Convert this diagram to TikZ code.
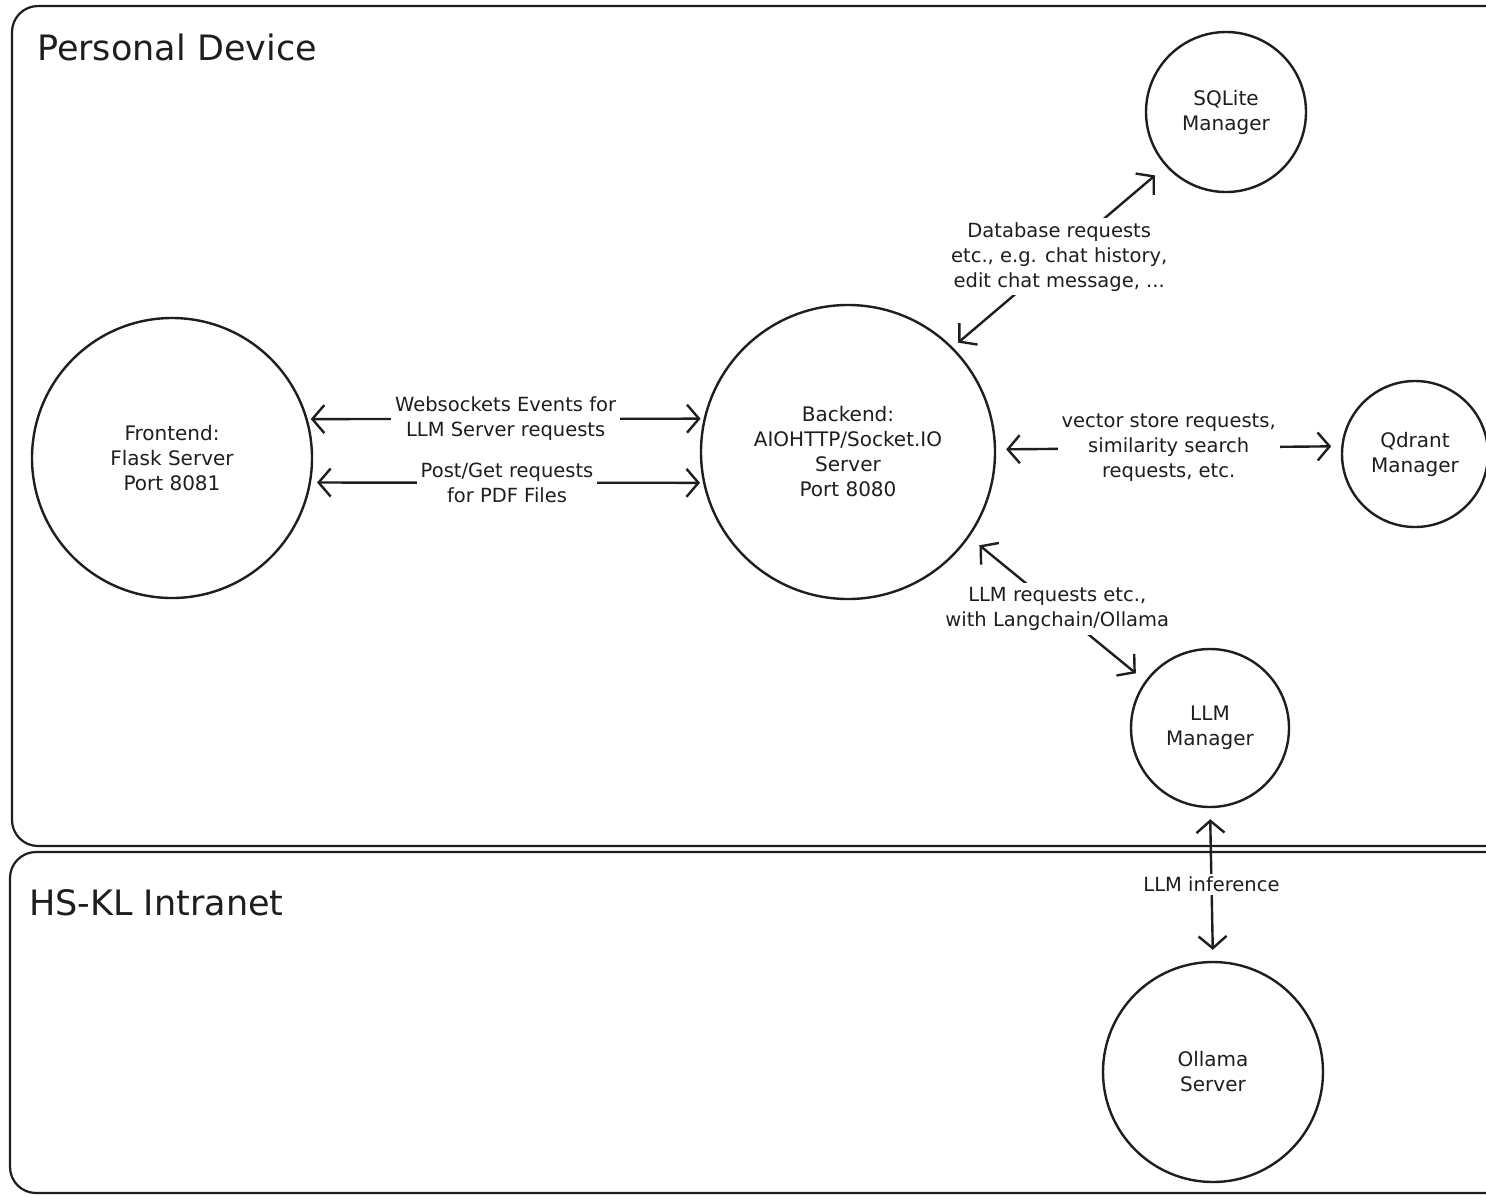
\documentclass[tikz,border=0pt]{standalone}
\usepackage{fontspec}
\setmainfont{DejaVu Sans}
\usetikzlibrary{arrows.meta}
\definecolor{ink}{HTML}{1E1E1E}
\begin{document}
\begin{tikzpicture}[x=1pt,y=-1pt,
  every node/.style={text=ink},
  zone/.style={draw=ink, line width=2.2pt, rounded corners=26pt},
  comp/.style={circle, draw=ink, line width=2.4pt, inner sep=0pt, align=center,
    font=\fontsize{20}{25}\selectfont},
  conn/.style={draw=ink, line width=2.4pt, line cap=round,
    {Straight Barb[length=12pt,width=28pt]}-{Straight Barb[length=12pt,width=28pt]}},
  lbl/.style={fill=white, align=center, inner sep=4pt,
    font=\fontsize{19.5}{25}\selectfont},
  zonetitle/.style={anchor=west, inner sep=0pt, font=\fontsize{35}{40}\selectfont}]
\useasboundingbox (0,0) rectangle (1486,1195);
\fill[white] (0,0) rectangle (1486,1195);

\begin{scope}
\clip (0,0) rectangle (1486,1195);
\draw[zone] (12,6) rectangle (1540,846);
\draw[zone] (10,852) rectangle (1540,1193);
\end{scope}

\node[zonetitle] (tpd) at (37,47) {Personal Device};
\node[zonetitle] (tik) at (29,903) {HS-KL Intranet};

\node[comp, minimum size=280pt] (front) at (172,458) {Frontend:\\Flask Server\\Port 8081};
\node[comp, minimum size=294pt] (back) at (848,452) {Backend:\\AIOHTTP/Socket.IO\\Server\\Port 8080};
\node[comp, minimum size=160pt] (sql) at (1226,112) {SQLite\\Manager};
\node[comp, minimum size=146pt] (qd) at (1415,454) {Qdrant\\Manager};
\node[comp, minimum size=158pt] (llm) at (1210,728) {LLM\\Manager};
\node[comp, minimum size=220pt] (oll) at (1213,1072) {Ollama\\Server};

\draw[conn, shorten <=3pt, shorten >=3pt] (front.16.6) -- node[lbl] (l1) {Websockets Events for\\LLM Server requests} (back.167.5);
\draw[conn, shorten <=6pt, shorten >=3pt] (front.-10.3) -- node[lbl] (l2) {Post/Get requests\\for PDF Files} (back.192.9);
\draw[conn, shorten <=7pt, shorten >=14pt] (back.45.5) -- node[lbl] (l3) {Database requests\\etc., e.g. chat history,\\edit chat message, ...} (sql.222.5);
\draw[conn, shorten <=10pt, shorten >=10pt] (back.1.95) -- node[lbl] (l4) {vector store requests,\\similarity search\\requests, etc.} (qd.174.5);
\draw[conn, shorten <=13pt, shorten >=12pt] (back.-35) -- node[lbl] (l5) {LLM requests etc.,\\with Langchain/Ollama} (llm.144);
\draw[conn, shorten <=11pt, shorten >=11pt] (llm.south) -- node[lbl, inner sep=3pt] (l6) {LLM inference} (oll.north);
\end{tikzpicture}
\end{document}
